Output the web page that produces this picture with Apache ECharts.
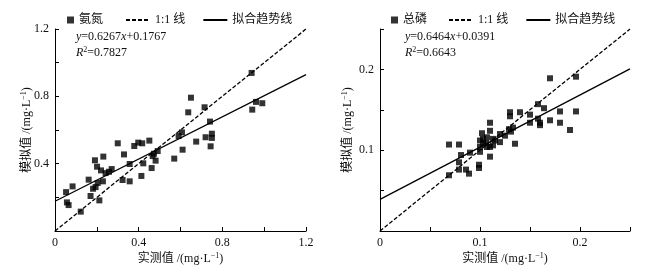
<!DOCTYPE html>
<html>
<head>
<meta charset="utf-8">
<script src="https://cdn.jsdelivr.net/npm/echarts@6/dist/echarts.min.js"></script>
<style>
  html, body { margin: 0; padding: 0; background: #fff; }
  #chart { width: 645px; height: 276px; }
</style>
</head>
<body>
<div id="chart"></div>
<script>
// 氨氮 实测值 / 模拟值 (mg·L-1)
var nhObs = [0.053, 0.057, 0.065, 0.084, 0.123, 0.161, 0.170, 0.182, 0.191, 0.194, 0.201, 0.204, 0.212,
  0.220, 0.229, 0.231, 0.242, 0.258, 0.271, 0.300, 0.323, 0.330, 0.357, 0.357, 0.379, 0.398, 0.413,
  0.417, 0.422, 0.451, 0.462, 0.467, 0.473, 0.481, 0.491, 0.570, 0.591, 0.607, 0.610, 0.675, 0.720,
  0.744, 0.750, 0.750, 0.940, 0.650, 0.637, 0.715, 0.741, 0.943, 0.961, 0.991];
var nhSim = [0.231, 0.170, 0.154, 0.265, 0.115, 0.305, 0.208, 0.251, 0.420, 0.261, 0.382, 0.285, 0.182,
  0.360, 0.295, 0.442, 0.344, 0.352, 0.368, 0.521, 0.303, 0.455, 0.295, 0.398, 0.505, 0.525, 0.327,
  0.521, 0.402, 0.537, 0.374, 0.445, 0.459, 0.418, 0.475, 0.430, 0.564, 0.586, 0.483, 0.531, 0.557,
  0.503, 0.578, 0.553, 0.939, 0.792, 0.705, 0.735, 0.650, 0.721, 0.767, 0.759];
// 总磷
var tpObs = [0.069, 0.079, 0.081, 0.090, 0.079, 0.079, 0.086, 0.089, 0.069, 0.099, 0.099, 0.100, 0.100,
  0.100, 0.102, 0.103, 0.103, 0.106, 0.107, 0.107, 0.110, 0.110, 0.110, 0.110, 0.113, 0.113, 0.120,
  0.120, 0.129, 0.131, 0.130, 0.130, 0.135, 0.140, 0.150, 0.150, 0.158, 0.158, 0.160, 0.160, 0.164,
  0.170, 0.170, 0.180, 0.180, 0.190, 0.196, 0.196, 0.133, 0.115, 0.125];
var tpSim = [0.107, 0.107, 0.094, 0.097, 0.085, 0.076, 0.076, 0.071, 0.069, 0.082, 0.078, 0.112, 0.104,
  0.098, 0.121, 0.114, 0.108, 0.109, 0.104, 0.116, 0.092, 0.104, 0.124, 0.134, 0.106, 0.114, 0.120,
  0.110, 0.126, 0.123, 0.142, 0.147, 0.108, 0.147, 0.144, 0.134, 0.139, 0.157, 0.134, 0.131, 0.152,
  0.137, 0.189, 0.148, 0.134, 0.125, 0.191, 0.148, 0.128, 0.112, 0.118];
// 拟合: 斜率, 截距, R2
var nhFit = [0.6267, 0.1767, 0.7827];
var tpFit = [0.6464, 0.0391, 0.6643];
var nhRange = [0, 1.2];
var tpRange = [0, 0.25];

var FONT = "'Liberation Serif', 'Noto Sans CJK SC', serif";

function pairs(xs, ys) {
  var out = [];
  for (var i = 0; i < xs.length; i++) out.push([xs[i], ys[i]]);
  return out;
}
function fitLine(fit, range) {
  return [[range[0], fit[0] * range[0] + fit[1]], [range[1], fit[0] * range[1] + fit[1]]];
}
// 只在主刻度上显示标签
function labeler(step, hideZero) {
  return function (v) {
    var k = v / step;
    if (Math.abs(k - Math.round(k)) > 1e-6) return '';
    if (hideZero && Math.abs(v) < 1e-9) return '';
    return String(+v.toFixed(2));
  };
}
function axisBase(idx, min, max, interval, labStep, hideZero, name, gap) {
  return {
    type: 'value', gridIndex: idx, min: min, max: max, interval: interval,
    name: name, nameLocation: 'middle', nameGap: gap, nameMoveOverlap: false,
    nameTextStyle: {
      color: '#111', fontFamily: FONT, fontSize: 12,
      rich: { sup: { fontSize: 8, verticalAlign: 'top', padding: [0, 0, 6, 0], fontFamily: FONT, color: '#111' },
              t: { fontSize: 12, fontFamily: FONT, color: '#111' } }
    },
    axisLine: { show: true, onZero: false, lineStyle: { color: '#000', width: 1 } },
    axisTick: { show: true, inside: true, length: 4, lineStyle: { color: '#000' } },
    axisLabel: { color: '#111', fontFamily: FONT, fontSize: 12, margin: 6, formatter: labeler(labStep, hideZero) },
    splitLine: { show: false }
  };
}
var xName = '{t|实测值 /(mg·L}{sup|−1}{t|)}';
var yName = '{t|模拟值 /(mg·L}{sup|−1}{t|)}';

var legendText = { color: '#111', fontFamily: FONT, fontSize: 12 };
var lineLegend = ['1:1 线', '拟合趋势线'];

var option = {
  animation: false,
  backgroundColor: '#fff',
  color: ['#000'],
  grid: [
    { left: 55, top: 29, width: 251, height: 202 },
    { left: 380, top: 29, width: 250, height: 202 }
  ],
  xAxis: [
    axisBase(0, 0, 1.2, 0.2, 0.4, false, xName, 21),
    axisBase(1, 0, 0.25, 0.05, 0.1, false, xName, 21)
  ],
  yAxis: [
    axisBase(0, 0, 1.2, 0.2, 0.4, true, yName, 21),
    axisBase(1, 0, 0.25, 0.05, 0.1, true, yName, 25)
  ],
  legend: [
    { left: 62, top: 9, itemWidth: 7, itemHeight: 7, data: [{ name: '氨氮', icon: 'rect' }], textStyle: legendText },
    { left: 120, top: 9, itemWidth: 24, itemHeight: 10, itemGap: 17, data: lineLegend, textStyle: legendText,
      itemStyle: { opacity: 0 } },
    { left: 386, top: 9, itemWidth: 7, itemHeight: 7, data: [{ name: '总磷', icon: 'rect' }], textStyle: legendText },
    { left: 443, top: 9, itemWidth: 24, itemHeight: 10, itemGap: 17, data: lineLegend, textStyle: legendText,
      itemStyle: { opacity: 0 } }
  ],
  graphic: [
    { type: 'text', left: 76, top: 31, style: { rich: { i: { fontStyle: 'italic', fontFamily: FONT, fontSize: 12, fill: '#111' }, n: { fontFamily: FONT, fontSize: 12, fill: '#111' } },
      text: '{i|y}{n|=' + nhFit[0] + '}{i|x}{n|+' + nhFit[1] + '}' } },
    { type: 'text', left: 76, top: 46, style: { rich: { i: { fontStyle: 'italic', fontFamily: FONT, fontSize: 12, fill: '#111' }, n: { fontFamily: FONT, fontSize: 12, fill: '#111' }, s: { fontFamily: FONT, fontSize: 8, fill: '#111', padding: [0, 0, 6, 0] } },
      text: '{i|R}{s|2}{n|=' + nhFit[2] + '}' } },
    { type: 'text', left: 405, top: 31, style: { rich: { i: { fontStyle: 'italic', fontFamily: FONT, fontSize: 12, fill: '#111' }, n: { fontFamily: FONT, fontSize: 12, fill: '#111' } },
      text: '{i|y}{n|=' + tpFit[0] + '}{i|x}{n|+' + tpFit[1] + '}' } },
    { type: 'text', left: 405, top: 46, style: { rich: { i: { fontStyle: 'italic', fontFamily: FONT, fontSize: 12, fill: '#111' }, n: { fontFamily: FONT, fontSize: 12, fill: '#111' }, s: { fontFamily: FONT, fontSize: 8, fill: '#111', padding: [0, 0, 6, 0] } },
      text: '{i|R}{s|2}{n|=' + tpFit[2] + '}' } }
  ],
  series: [
    { name: '氨氮', type: 'scatter', xAxisIndex: 0, yAxisIndex: 0, symbol: 'rect', symbolSize: 6,
      itemStyle: { color: '#000' }, data: pairs(nhObs, nhSim) },
    { name: '1:1 线', type: 'line', xAxisIndex: 0, yAxisIndex: 0, symbol: 'none', itemStyle: { color: '#000' },
      lineStyle: { color: '#000', width: 1.3, type: [4, 2] }, data: [[nhRange[0], nhRange[0]], [nhRange[1], nhRange[1]]] },
    { name: '拟合趋势线', type: 'line', xAxisIndex: 0, yAxisIndex: 0, symbol: 'none', itemStyle: { color: '#000' },
      lineStyle: { color: '#000', width: 1.3 }, data: fitLine(nhFit, nhRange) },
    { name: '总磷', type: 'scatter', xAxisIndex: 1, yAxisIndex: 1, symbol: 'rect', symbolSize: 6,
      itemStyle: { color: '#000' }, data: pairs(tpObs, tpSim) },
    { name: '1:1 线', type: 'line', xAxisIndex: 1, yAxisIndex: 1, symbol: 'none', itemStyle: { color: '#000' },
      lineStyle: { color: '#000', width: 1.3, type: [4, 2] }, data: [[tpRange[0], tpRange[0]], [tpRange[1], tpRange[1]]] },
    { name: '拟合趋势线', type: 'line', xAxisIndex: 1, yAxisIndex: 1, symbol: 'none', itemStyle: { color: '#000' },
      lineStyle: { color: '#000', width: 1.3 }, data: fitLine(tpFit, tpRange) }
  ]
};

var chart = echarts.init(document.getElementById('chart'));
chart.setOption(option);
window.addEventListener('resize', function () { chart.resize(); });
</script>
</body>
</html>
